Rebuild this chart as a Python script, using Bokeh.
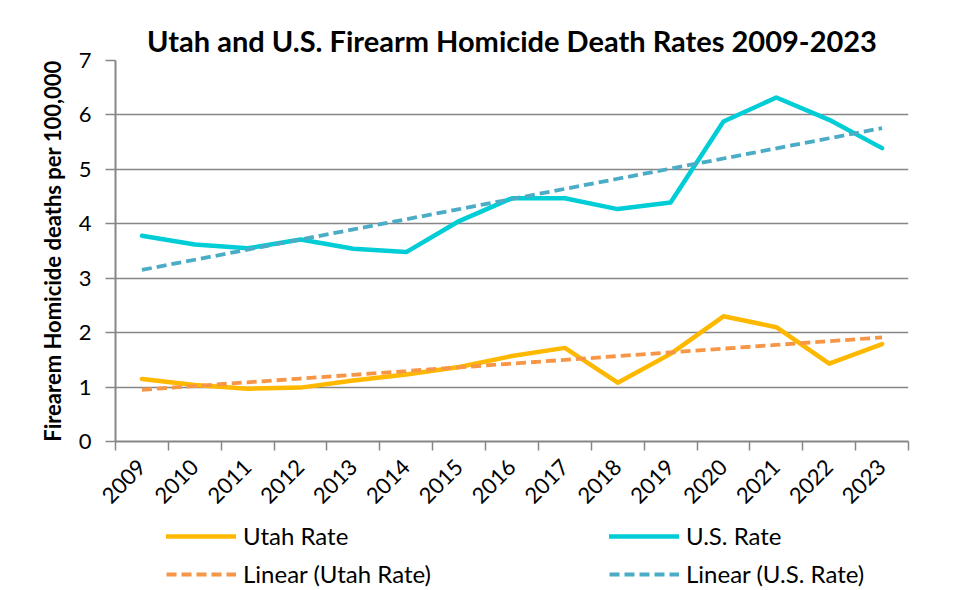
import numpy as np
from bokeh.plotting import figure
from bokeh.layouts import column
from bokeh.models import Range1d, FixedTicker, Legend, LegendItem, ColumnDataSource
from bokeh.embed import file_html
from bokeh.resources import INLINE

# ---- data ----
years = [2009, 2010, 2011, 2012, 2013, 2014, 2015, 2016,
         2017, 2018, 2019, 2020, 2021, 2022, 2023]
utah_rate = [1.15, 1.04, 0.97, 0.99, 1.12, 1.23, 1.37, 1.57,
             1.72, 1.08, 1.61, 2.30, 2.10, 1.43, 1.79]
us_rate = [3.78, 3.62, 3.55, 3.71, 3.54, 3.48, 4.05, 4.47,
           4.47, 4.27, 4.39, 5.88, 6.32, 5.91, 5.39]
y_ticks = [0, 1, 2, 3, 4, 5, 6, 7]
grid_ticks = [0, 1, 2, 3, 4, 5, 6]

title_text = "Utah and U.S. Firearm Homicide Death Rates 2009-2023"
y_label = "Firearem Homicide deaths per 100,000"
series_labels = ["Utah Rate", "U.S. Rate", "Linear (Utah Rate)", "Linear (U.S. Rate)"]

# Linear trend lines (least-squares fit, as Excel's "Linear" trendline)
xs = np.arange(len(years))
utah_fit = np.polyval(np.polyfit(xs, utah_rate, 1), xs)
us_fit = np.polyval(np.polyfit(xs, us_rate, 1), xs)

src = ColumnDataSource(dict(year=years, utah=utah_rate, us=us_rate,
                            utah_fit=utah_fit, us_fit=us_fit))
columns = ["utah", "us", "utah_fit", "us_fit"]

FONT = "Lato"
GRID = "#868686"
STYLES = [  # Utah, U.S., Linear Utah, Linear U.S.
    dict(line_color="#FFB800", line_width=4.5, line_cap="round", line_join="round"),
    dict(line_color="#00CDD6", line_width=4.5, line_cap="round", line_join="round"),
    dict(line_color="#F79646", line_width=3.8, line_dash="10 5"),
    dict(line_color="#4BACC6", line_width=3.8, line_dash="10 5"),
]

W = 956
H_MAIN = 513
H_LEG = 75

p = figure(width=W, height=H_MAIN, output_backend="svg", toolbar_location=None,
           x_range=Range1d(years[0] - 0.5, years[-1] + 0.5),
           y_range=Range1d(y_ticks[0], y_ticks[-1]),
           min_border_left=115, min_border_right=48,
           min_border_top=60, min_border_bottom=70)
p.outline_line_color = None
p.background_fill_color = "white"
p.border_fill_color = "white"

p.title.text = title_text
p.title.align = "center"
p.title.standoff = 6
p.title.text_font = FONT
p.title.text_font_style = "bold"
p.title.text_font_size = "29px"
p.title.text_color = "black"

# x axis: labels at year centers, tick marks at category boundaries
bounds = [y - 0.5 for y in years] + [years[-1] + 0.5]
p.xaxis.ticker = FixedTicker(ticks=years, minor_ticks=bounds)
p.xaxis.major_label_overrides = {y: str(y) for y in years}
p.xaxis.major_label_orientation = np.pi / 4
p.xaxis.major_tick_out = 0
p.xaxis.major_tick_in = 0
p.xaxis.minor_tick_out = 9
p.xaxis.minor_tick_in = 0
p.xaxis.minor_tick_line_color = GRID
p.xaxis.minor_tick_line_width = 1.5
p.xaxis.axis_line_color = GRID
p.xaxis.axis_line_width = 2
p.xaxis.major_label_text_font = FONT
p.xaxis.major_label_text_font_size = "22px"
p.xaxis.major_label_text_color = "black"
p.xaxis.major_label_standoff = 13

# y axis
p.yaxis.ticker = FixedTicker(ticks=y_ticks)
p.yaxis.minor_tick_line_color = None
p.yaxis.major_tick_out = 10
p.yaxis.major_tick_in = 0
p.yaxis.major_tick_line_color = GRID
p.yaxis.major_tick_line_width = 1.5
p.yaxis.axis_line_color = GRID
p.yaxis.axis_line_width = 2
p.yaxis.major_label_text_font = FONT
p.yaxis.major_label_text_font_size = "22px"
p.yaxis.major_label_text_color = "black"
p.yaxis.major_label_standoff = 14
p.yaxis.axis_label = y_label
p.yaxis.axis_label_text_font = FONT
p.yaxis.axis_label_text_font_style = "bold"
p.yaxis.axis_label_text_font_size = "22px"
p.yaxis.axis_label_text_color = "black"
p.yaxis.axis_label_standoff = 10

p.xgrid.grid_line_color = None
p.ygrid.ticker = FixedTicker(ticks=grid_ticks)
p.ygrid.grid_line_color = GRID
p.ygrid.grid_line_width = 1.5

for col, st in zip(columns, STYLES):
    p.line("year", col, source=src, **st)

# ---- legend strip below the chart (same series & styles; the series lie
#      outside this strip's ranges, so only the legend keys show) ----
lg = figure(width=W, height=H_LEG, output_backend="svg", toolbar_location=None,
            x_range=Range1d(0, 1), y_range=Range1d(0, 1),
            x_axis_location=None, y_axis_location=None,
            min_border_left=0, min_border_right=0,
            min_border_top=0, min_border_bottom=0)
lg.outline_line_color = None
lg.xgrid.visible = False
lg.ygrid.visible = False
lg.border_fill_color = "white"
lg.background_fill_color = "white"
keys = [lg.line("year", col, source=src, **st) for col, st in zip(columns, STYLES)]

# column-major order: Utah, Linear Utah | U.S., Linear U.S.
order = [0, 2, 1, 3]
legend = Legend(items=[LegendItem(label=series_labels[i], renderers=[keys[i]]) for i in order],
                ncols=2, location=(51, 0))
legend.border_line_color = None
legend.background_fill_alpha = 0
legend.padding = 0
legend.margin = 0
legend.spacing = 9
legend.glyph_width = 70
legend.glyph_height = 24
legend.label_height = 24
legend.label_width = 357
legend.label_standoff = 7
legend.label_text_font = FONT
legend.label_text_font_size = "24px"
legend.label_text_color = "black"
lg.add_layout(legend, "center")

layout = column(p, lg, spacing=0)
open("out.html", "w").write(file_html(layout, INLINE))
